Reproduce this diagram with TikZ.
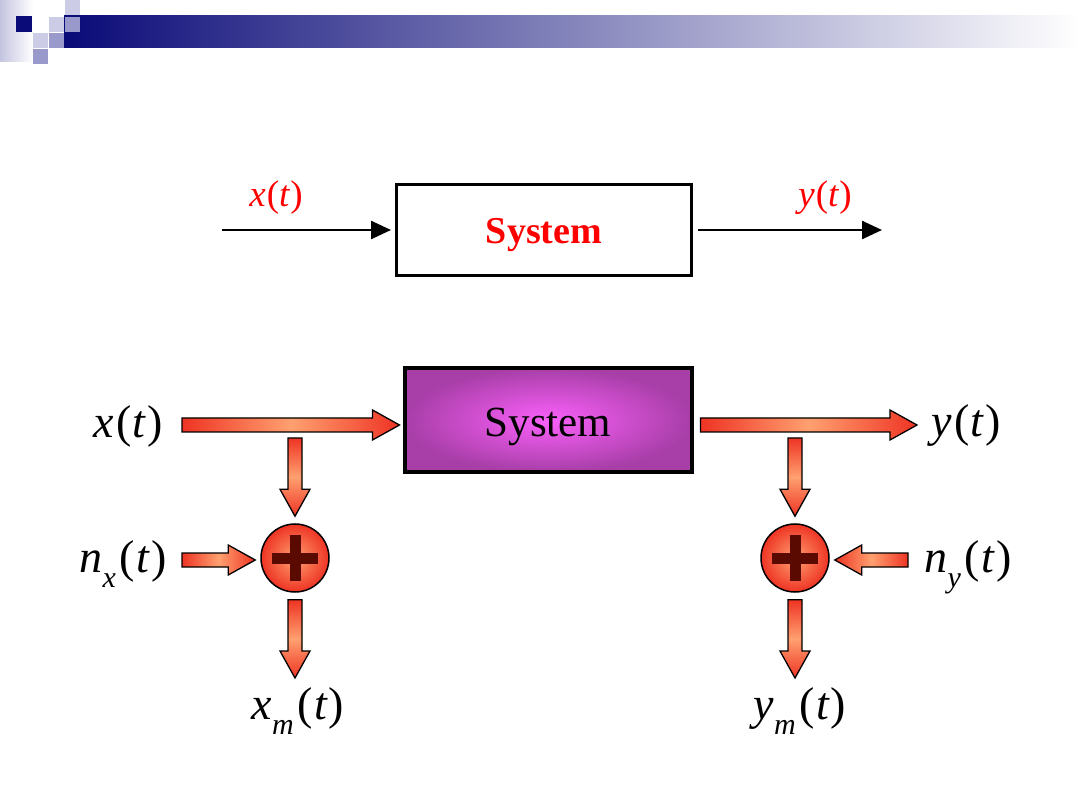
\documentclass[tikz,border=0pt]{standalone}
\usepackage{fontspec}
\setmainfont{Liberation Serif}
\usetikzlibrary{arrows.meta,calc}
\definecolor{navy}{RGB}{10,10,120}
\definecolor{lavl}{RGB}{204,204,230}
\definecolor{lavm}{RGB}{153,153,204}
\definecolor{lavs}{RGB}{196,196,224}
\definecolor{arrred}{RGB}{238,52,36}
\definecolor{arrorange}{RGB}{255,160,112}
\definecolor{plusbrown}{RGB}{90,10,0}
\definecolor{purpin}{RGB}{250,96,250}
\definecolor{purpout}{RGB}{168,62,168}
\newcommand\fsz[1]{\fontsize{#1pt}{#1pt}\selectfont}
\newcommand\sbx[1]{\raisebox{-0.34em}{\fsz{30}\itshape #1}}
\newcommand\fatarrow[3]{%
  \coordinate (fatH) at ($(#2)!27pt!(#1)$);
  \path[fatarr,#3] ($(#1)!7pt!90:(#2)$) -- ($(fatH)!7pt!90:(#2)$) -- ($(fatH)!15pt!90:(#2)$)
    -- (#2) -- ($(fatH)!15pt!-90:(#2)$) -- ($(fatH)!7pt!-90:(#2)$) -- ($(#1)!7pt!-90:(#2)$) -- cycle;}
\tikzset{
  fatarr/.style={draw=black, line width=1.3pt, line join=miter},
  hshade/.style={left color=arrred, right color=arrred, middle color=arrorange},
  vshade/.style={top color=arrred, bottom color=arrred, middle color=arrorange},
  sumnode/.style={circle, draw=black, line width=1.5pt, minimum size=68pt, inner sep=0pt,
    inner color=arrorange, outer color=arrred},
  plusbar/.style={draw=plusbrown, line width=11pt},
  lbl/.style={inner sep=0pt, font=\fsz{46}},
  toplbl/.style={inner sep=0pt, font=\fsz{37}, text=red},
  thinarr/.style={draw=black, line width=2.5pt, -{Triangle[length=20pt,width=18pt]}},
}
\begin{document}
\begin{tikzpicture}[x=1pt,y=-1pt]
\useasboundingbox (0,0) rectangle (1080,810);
% header decoration
\fill[left color=lavs, right color=white] (0,0) rectangle (33,62);
\fill[left color=navy, right color=white] (64,16) rectangle (1080,48);
\fill[navy] (16,16) rectangle (32,32);
\fill[lavl] (65,0) rectangle (80,15);
\fill[lavl] (49,17) rectangle (64,32);
\fill[lavm] (65,17) rectangle (80,32);
\fill[lavl] (33,33) rectangle (48,48);
\fill[lavm] (49,33) rectangle (64,48);
\fill[lavm] (33,49) rectangle (48,64);

% top diagram
\node[draw=black, line width=3pt, minimum width=295pt, minimum height=91pt, inner sep=0pt,
  font=\fsz{38}\bfseries, text=red] (sysA) at (544,230) {\raisebox{-14pt}[0pt][0pt]{System}};
\coordinate (inA) at (222,230);
\coordinate (outA) at (882,230);
\node[toplbl] (xA) at (276,198) {\itshape x\kern1pt\upshape(\itshape t\kern1pt\upshape)};
\node[toplbl] (yA) at (825,198) {\itshape y\kern1pt\upshape(\itshape t\kern1pt\upshape)};
\draw[thinarr] (inA) -- ($(sysA.west)+(-4,0)$);
\draw[thinarr] ($(sysA.east)+(5,0)$) -- (outA);

% bottom diagram
\node[draw=black, line width=4pt, minimum width=287pt, minimum height=104pt, inner sep=0pt,
  inner color=purpin, outer color=purpout, font=\fsz{43}] (sysB) at (548,420) {\raisebox{-17pt}[0pt][0pt]{System}};
\node[lbl] (xB) at (128,426) {\itshape x\kern2pt\upshape(\kern1pt\itshape t\kern2pt\upshape)};
\node[lbl] (yB) at (966,426) {\itshape y\kern2pt\upshape(\kern1pt\itshape t\kern2pt\upshape)};
\node[lbl, anchor=base] (nx) at (123,572) {\itshape n\sbx{x}\kern4pt\upshape(\kern1pt\itshape t\kern2pt\upshape)};
\node[lbl, anchor=base] (ny) at (968,572) {\itshape n\sbx{y}\kern4pt\upshape(\kern1pt\itshape t\kern2pt\upshape)};
\node[lbl, anchor=base] (xm) at (298,719) {\itshape x\sbx{m}\kern4pt\upshape(\kern1pt\itshape t\kern2pt\upshape)};
\node[lbl, anchor=base] (ym) at (800,719) {\itshape y\sbx{m}\kern4pt\upshape(\kern1pt\itshape t\kern2pt\upshape)};

\node[sumnode] (s1) at (295,558) {};
\node[sumnode] (s2) at (795,558) {};
\foreach \s in {s1,s2}{
  \draw[plusbar] ($(\s)+(-23,0)$) -- ($(\s)+(23,0)$);
  \draw[plusbar] ($(\s)+(0,-23)$) -- ($(\s)+(0,23)$);
}

\coordinate (a1s) at (182,425);
\coordinate (a1e) at ($(sysB.west)+(-3,5)$);
\fatarrow{a1s}{a1e}{hshade}
\coordinate (a2s) at ($(sysB.east)+(7,5)$);
\coordinate (a2e) at (917,425);
\fatarrow{a2s}{a2e}{hshade}
\coordinate (b1s) at (295,438);
\fatarrow{b1s}{$(s1.north)+(0,-7)$}{vshade}
\coordinate (b2s) at (795,438);
\fatarrow{b2s}{$(s2.north)+(0,-7)$}{vshade}
\coordinate (c1s) at (182,560);
\fatarrow{c1s}{$(s1.west)+(-5,2)$}{hshade}
\coordinate (c2s) at (908,560);
\fatarrow{c2s}{$(s2.east)+(5,2)$}{hshade}
\coordinate (d1e) at (295,678);
\fatarrow{$(s1.south)+(0,7)$}{d1e}{vshade}
\coordinate (d2e) at (795,678);
\fatarrow{$(s2.south)+(0,7)$}{d2e}{vshade}
\end{tikzpicture}
\end{document}
